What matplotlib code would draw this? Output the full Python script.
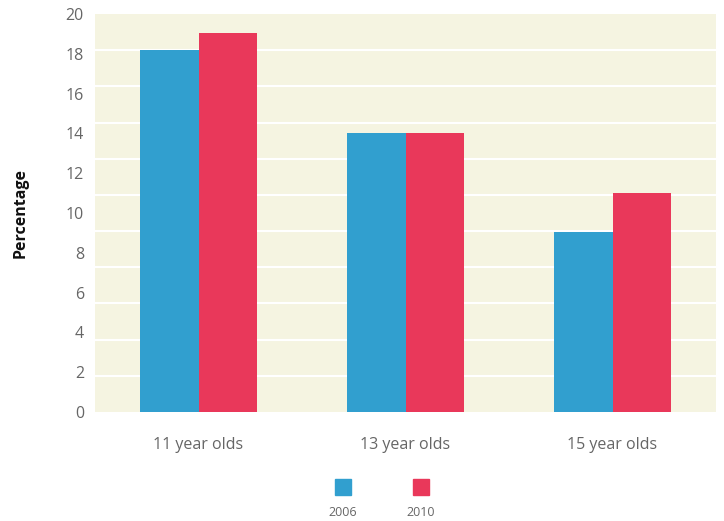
import numpy as np
import matplotlib
matplotlib.use("Agg")
import matplotlib.pyplot as plt
from matplotlib.patches import Rectangle

plt.rcParams['font.family'] = ['Open Sans', 'DejaVu Sans']

# data
groups = ["11 year olds", "13 year olds", "15 year olds"]
years = ["2006", "2010"]
values_2006 = [18.2, 14.0, 9.05]
values_2010 = [19.05, 14.0, 11.0]
colors = ["#319fcf", "#e9385a"]

W, H = 724, 521
fig = plt.figure(figsize=(W / 100, H / 100), dpi=100)
ax = fig.add_axes([95 / W, (H - 412) / H, (716 - 95) / W, (412 - 14) / H])
ax.set_facecolor("#f5f4e1")

x = np.arange(len(groups))
bw = 0.285
ax.bar(x - bw / 2, values_2006, width=bw, color=colors[0], zorder=3)
ax.bar(x + bw / 2, values_2010, width=bw, color=colors[1], zorder=3)

ax.set_xlim(-0.5, 2.5)
ax.set_ylim(0, 20)
ax.set_yticks(np.arange(0, 21, 2))
ax.set_yticks(np.linspace(0, 20, 12)[1:-1], minor=True)
ax.grid(which="minor", axis="y", color="white", linewidth=1.5, zorder=1)
ax.tick_params(axis="y", which="both", length=0, labelsize=11.5, labelcolor="#666666", pad=8)
ax.set_xticks(x)
ax.set_xticklabels(groups)
ax.tick_params(axis="x", length=0, labelsize=11.5, labelcolor="#666666", pad=18)
for s in ax.spines.values():
    s.set_visible(False)

fig.text(21 / W, 1 - 213 / H, "Percentage", rotation=90, ha="center", va="center",
         fontsize=11.5, fontweight="bold", color="#111111")

# legend: square above label
for i, (yr, c) in enumerate(zip(years, colors)):
    cx = 343 + i * 77.5
    fig.patches.append(Rectangle(((cx - 8) / W, 1 - 495 / H), 16 / W, 16 / H,
                                 transform=fig.transFigure, color=c))
    fig.text(cx / W, 1 - 512 / H, yr, ha="center", va="center", fontsize=9, color="#666666")

fig.savefig("out.png", dpi=100)
